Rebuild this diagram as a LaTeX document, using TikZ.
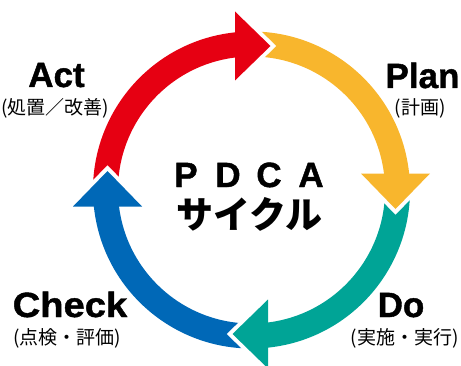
\documentclass[tikz,border=0pt]{standalone}
\usepackage{fontspec}
\setmainfont{Liberation Sans}
\newfontfamily\heavy{Liberation Sans Bold}[FakeBold=1.2]
\newfontfamily\jp{Noto Sans CJK JP}
\definecolor{cred}{RGB}{230,0,18}
\definecolor{cyel}{RGB}{248,182,45}
\definecolor{cteal}{RGB}{0,164,150}
\definecolor{cblue}{RGB}{0,104,183}
\tikzset{
  lat/.style={font=\heavy\fontsize{35}{35}\selectfont, inner sep=0pt, anchor=base},
  jpl/.style={font=\jp\fontsize{19}{19}\selectfont, inner sep=0pt},
  jpc/.style={font=\jp\bfseries\fontsize{37}{37}\selectfont, inner sep=0pt},
  gap/.style={draw=white, line width=8pt, line join=miter, miter limit=10}
}
\begin{document}
\begin{tikzpicture}[x=1pt,y=1pt]
\useasboundingbox (0,0) rectangle (461,365);
\coordinate (C) at (251.5,175);
% bands
\foreach \k/\col in {0/cred,1/cyel,2/cteal,3/cblue}{
  \begin{scope}[shift={(C)}, rotate=-90*\k]
    \fill[\col] (184:158.5) arc[start angle=184, end angle=95, radius=158.5]
      -- (95:133.5) arc[start angle=95, end angle=184, radius=133.5] -- cycle;
  \end{scope}
}
% heads
\foreach \k/\col in {0/cred,1/cyel,2/cteal,3/cblue}{
  \begin{scope}[shift={(C)}, rotate=-90*\k]
    \draw[gap] (-16.5,178.5) -- (19,144) -- (-16.5,109.5);
    \fill[\col] (-16.5,178.5) -- (19,144) -- (-16.5,109.5) -- cycle;
  \end{scope}
}
% labels
\node[lat] (act) at (56.5,278) {Act};
\node[jpl] (actj) at (55,257) {(処置／改善)};
\node[lat] (plan) at (422.5,277) {Plan};
\node[jpl] (planj) at (420,257) {(計画)};
\node[lat] (check) at (70,48) {\scalebox{1.09}[1]{Check}};
\node[jpl] (checkj) at (67,27) {(点検・評価)};
\node[lat] (do) at (401,48) {Do};
\node[jpl] (doj) at (404.5,27) {(実施・実行)};
% centre title
\node[lat] (tp) at (186,178) {P};
\node[lat] (td) at (228,178) {D};
\node[lat] (tc) at (269,178) {C};
\node[lat] (ta) at (311,178) {A};
\node[jpc] (cyc) at (249.5,150.5) {サイクル};
\end{tikzpicture}
\end{document}
